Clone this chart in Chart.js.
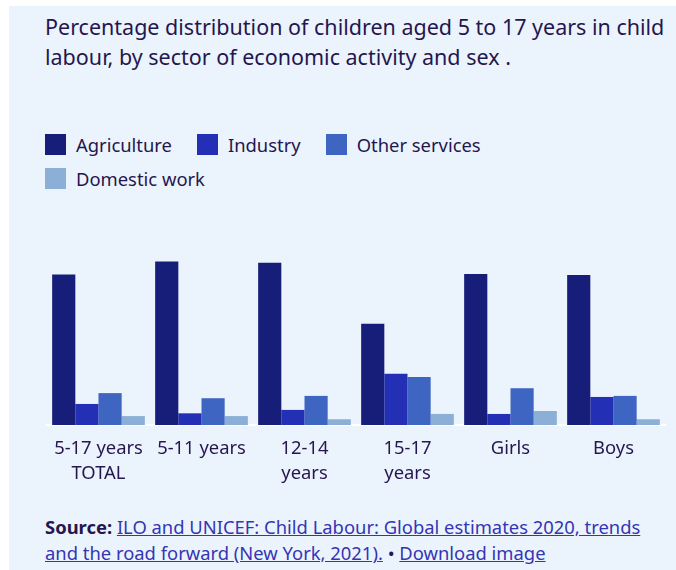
<!DOCTYPE html>
<html>
<head>
<meta charset="utf-8">
<script src="https://cdn.jsdelivr.net/npm/chart.js@4"></script>
<style>
  body { margin: 0; background: #fff; font-family: "Noto Sans", sans-serif; color: #26164f; }
  #panel { position: absolute; left: 9px; top: 6px; width: 667px; height: 564px; background: #ebf4fc; }
  #title { position: absolute; left: 45px; top: 12px; font-size: 21.5px; line-height: 30px; white-space: nowrap; }
  .legrow { position: absolute; left: 45px; display: flex; align-items: center; font-size: 18.4px; white-space: nowrap; }
  .legitem { display: flex; align-items: center; margin-right: 25px; }
  .legitem span.box { width: 21px; height: 21px; margin-right: 10px; display: inline-block; }
  #chartbox { position: absolute; left: 0; top: 240px; width: 676px; height: 260px; }
  #source { position: absolute; left: 45px; top: 514px; font-size: 18.4px; line-height: 26px; white-space: nowrap; }
  #source a { color: #3535b5; text-decoration: underline; }
</style>
</head>
<body>
<div id="panel"></div>
<div id="title">Percentage distribution of children aged 5 to 17 years in child<br>labour, by sector of economic activity and sex .</div>
<div class="legrow" id="leg1" style="top:132px"></div>
<div class="legrow" id="leg2" style="top:166px"></div>
<div id="chartbox"><canvas id="myChart"></canvas></div>
<div id="source"><b>Source:</b> <a>ILO and UNICEF: Child Labour: Global estimates 2020, trends<br>and the road forward (New York, 2021).</a> • <a>Download image</a></div>

<script>
'use strict'

const categories = [['5-17 years', 'TOTAL'], '5-11 years', ['12-14', 'years'], ['15-17', 'years'], 'Girls', 'Boys'];

const seriesNames = ['Agriculture', 'Industry', 'Other services', 'Domestic work'];
const seriesColors = ['#171e7a', '#2330b5', '#3f65c2', '#8cafd8'];

// percent values
const agriculture = [70.8, 77.0, 76.3, 47.6, 71.1, 70.6];
const industry = [9.9, 5.5, 7.1, 24.1, 5.2, 13.2];
const otherServices = [15.0, 12.6, 13.7, 22.6, 17.3, 13.7];
const domesticWork = [4.2, 4.2, 2.7, 5.2, 6.6, 2.7];

const seriesValues = [agriculture, industry, otherServices, domesticWork];

// legend, built by hand so it wraps like the original
function makeLegend(){
  const rows = [document.getElementById('leg1'), document.getElementById('leg2')];
  for (let i = 0; i < seriesNames.length; i++){
    const item = document.createElement('div');
    item.className = 'legitem';
    const box = document.createElement('span');
    box.className = 'box';
    box.style.background = seriesColors[i];
    item.appendChild(box);
    item.appendChild(document.createTextNode(seriesNames[i]));
    rows[i < 3 ? 0 : 1].appendChild(item);
  }
}
makeLegend();

const datasets = [];
for (let i = 0; i < seriesNames.length; i++){
  datasets.push({
    label: seriesNames[i],
    data: seriesValues[i],
    backgroundColor: seriesColors[i],
    borderWidth: 0,
    categoryPercentage: 0.9,
    barPercentage: 1.0
  });
}

const ctx = document.getElementById('myChart').getContext('2d');
const myChart = new Chart(ctx, {
  type: 'bar',
  data: {
    labels: categories,
    datasets: datasets
  },
  options: {
    responsive: true,
    maintainAspectRatio: false,
    animation: false,
    layout: { padding: { left: 47, right: 11, top: 15, bottom: 0 } },
    plugins: {
      legend: { display: false },
      tooltip: { enabled: false }
    },
    scales: {
      x: {
        grid: { display: false, drawTicks: false },
        border: { display: true, color: '#ffffff', width: 2 },
        ticks: {
          color: '#26164f',
          padding: 11,
          maxRotation: 0,
          autoSkip: false,
          font: { family: 'Noto Sans', size: 18.4, lineHeight: 1.36 }
        },
        afterFit: function(scale){ scale.height = 75; }
      },
      y: {
        display: false,
        min: 0,
        max: 80
      }
    }
  }
});
</script>
</body>
</html>
